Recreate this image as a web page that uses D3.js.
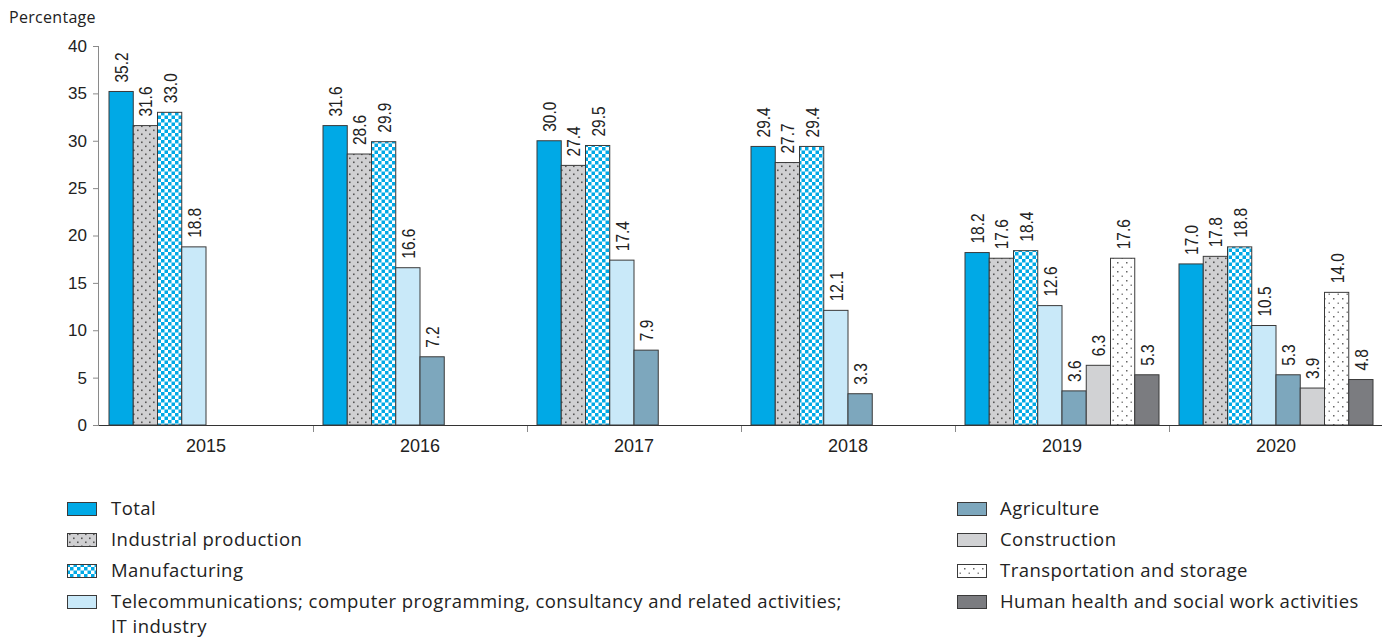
<!DOCTYPE html>
<html>
<head>
<meta charset="utf-8">
<script src="https://cdn.jsdelivr.net/npm/d3@7"></script>
<style>
  html, body { margin: 0; padding: 0; background: #fff; }
  svg { display: block; }
  .narrow { font-family: "Liberation Sans", Arial, sans-serif; }
  .leg { font-family: "Open Sans", "Noto Sans", sans-serif; }
</style>
</head>
<body>
<svg id="chart" width="1382" height="638"></svg>
<script>
// ---------- data ----------
const years = ["2015", "2016", "2017", "2018", "2019", "2020"];
const seriesNames = [
  "Total",
  "Industrial production",
  "Manufacturing",
  "Telecommunications; computer programming, consultancy and related activities; IT industry",
  "Agriculture",
  "Construction",
  "Transportation and storage",
  "Human health and social work activities"
];
const total        = [35.2, 31.6, 30.0, 29.4, 18.2, 17.0];
const industrial   = [31.6, 28.6, 27.4, 27.7, 17.6, 17.8];
const manufacturing= [33.0, 29.9, 29.5, 29.4, 18.4, 18.8];
const telecom      = [18.8, 16.6, 17.4, 12.1, 12.6, 10.5];
const agriculture  = [null, 7.2, 7.9, 3.3, 3.6, 5.3];
const construction = [null, null, null, null, 6.3, 3.9];
const transport    = [null, null, null, null, 17.6, 14.0];
const health       = [null, null, null, null, 5.3, 4.8];
const yTicks = [0, 5, 10, 15, 20, 25, 30, 35, 40];

const seriesValues = [total, industrial, manufacturing, telecom, agriculture, construction, transport, health];
const fills = ["#00a9e6", "url(#pDots)", "url(#pCheck)", "#c9e9f9", "#7da7bd", "#d1d2d4", "url(#pSparse)", "#7b7c80"];

// ---------- layout ----------
const svg = d3.select("#chart");
const mLeft = 99, mRight = 1383, mTop = 46, mBottom = 425;

const x = d3.scaleBand().domain(years).range([mLeft, mRight]).padding(0);
const xi = d3.scaleBand().domain(d3.range(8)).range([10, x.bandwidth() - 10]).padding(0);
const y = d3.scaleLinear().domain([0, 40]).range([mBottom, mTop]);

// ---------- patterns ----------
const defs = svg.append("defs");
const p1 = defs.append("pattern").attr("id", "pDots").attr("patternUnits", "userSpaceOnUse")
  .attr("width", 8).attr("height", 8);
p1.append("rect").attr("width", 8).attr("height", 8).attr("fill", "#d0d0d2");
p1.append("rect").attr("x", 1).attr("y", 1.5).attr("width", 1.6).attr("height", 1.6).attr("fill", "#555");
p1.append("rect").attr("x", 5).attr("y", 5.5).attr("width", 1.6).attr("height", 1.6).attr("fill", "#555");
const cs = 3.5;
const p2 = defs.append("pattern").attr("id", "pCheck").attr("patternUnits", "userSpaceOnUse")
  .attr("width", cs * 2).attr("height", cs * 2);
p2.append("rect").attr("width", cs * 2).attr("height", cs * 2).attr("fill", "#ffffff");
p2.append("rect").attr("x", 0).attr("y", 0).attr("width", cs).attr("height", cs).attr("fill", "#00a9e6");
p2.append("rect").attr("x", cs).attr("y", cs).attr("width", cs).attr("height", cs).attr("fill", "#00a9e6");
const p3 = defs.append("pattern").attr("id", "pSparse").attr("patternUnits", "userSpaceOnUse")
  .attr("width", 9).attr("height", 9);
p3.append("rect").attr("width", 9).attr("height", 9).attr("fill", "#ffffff");
p3.append("rect").attr("x", 1).attr("y", 1).attr("width", 1.5).attr("height", 1.5).attr("fill", "#666");
p3.append("rect").attr("x", 5.5).attr("y", 5.5).attr("width", 1.5).attr("height", 1.5).attr("fill", "#888");

// ---------- axes ----------
const yAxis = d3.axisLeft(y).tickValues(yTicks).tickSize(6).tickPadding(6);
const gy = svg.append("g").attr("transform", `translate(${mLeft},0)`).call(yAxis);
gy.select(".domain").attr("stroke", "#8a8a8a").attr("d", `M-0.5,${mTop}V${mBottom}`);
gy.selectAll(".tick line").attr("stroke", "#8a8a8a");
gy.selectAll(".tick text").attr("class", "narrow").attr("font-size", 17).attr("fill", "#222");

svg.append("text").attr("class", "leg").attr("x", 9).attr("y", 23)
  .attr("font-size", 16).attr("letter-spacing", 0.3).attr("fill", "#222").text("Percentage");

const xAxis = d3.axisBottom(x).tickSize(0).tickPadding(14);
const gx = svg.append("g").attr("transform", `translate(0,${mBottom})`).call(xAxis);
gx.select(".domain").attr("stroke", "#333").attr("d", `M${mLeft},0.5H${mRight}`);
gx.selectAll(".tick text").attr("font-family", "Liberation Sans, Arial, sans-serif")
  .attr("font-size", 18).attr("fill", "#222");
svg.append("g").selectAll("line").data(years.slice(1)).join("line")
  .attr("x1", d => Math.round(x(d)) + 0.5).attr("x2", d => Math.round(x(d)) + 0.5)
  .attr("y1", mBottom + 1).attr("y2", mBottom + 7).attr("stroke", "#8a8a8a");

// ---------- bars ----------
const flat = [];
years.forEach((yr, i) => {
  seriesValues.forEach((arr, s) => {
    if (arr[i] != null) flat.push({ yr, s, v: arr[i] });
  });
});

const gBars = svg.append("g");
gBars.selectAll("rect").data(flat).join("rect")
  .attr("x", d => x(d.yr) + xi(d.s))
  .attr("y", d => y(d.v))
  .attr("width", xi.bandwidth())
  .attr("height", d => y(0) - y(d.v))
  .attr("fill", d => fills[d.s])
  .attr("stroke", "#3a3a3a")
  .attr("stroke-width", 1);

gBars.selectAll("text").data(flat).join("text")
  .attr("class", "narrow")
  .attr("transform", d => `translate(${x(d.yr) + xi(d.s) + xi.bandwidth() / 2 + 7},${y(d.v) - 9}) rotate(-90) scale(0.86,1)`)
  .attr("font-size", 18).attr("fill", "#222")
  .text(d => d.v.toFixed(1));

// ---------- legend ----------
const legLeft = [
  { s: 0, lines: ["Total"] },
  { s: 1, lines: ["Industrial production"] },
  { s: 2, lines: ["Manufacturing"] },
  { s: 3, lines: ["Telecommunications; computer programming, consultancy and related activities;", "IT industry"] }
];
const legRight = [4, 5, 6, 7].map(s => ({ s, lines: [seriesNames[s]] }));

function drawLegend(items, sx, tx) {
  const g = svg.append("g");
  items.forEach((it, i) => {
    const cy = 509 + i * 31;
    g.append("rect").attr("x", sx + 0.5).attr("y", cy - 6.5).attr("width", 29).attr("height", 13)
      .attr("fill", fills[it.s]).attr("stroke", "#3a3a3a").attr("stroke-width", 1);
    it.lines.forEach((ln, j) => {
      g.append("text").attr("class", "leg").attr("x", tx).attr("y", cy + 6 + j * 25)
        .attr("font-size", 18.5).attr("letter-spacing", 0.45).attr("fill", "#222").text(ln);
    });
  });
}
drawLegend(legLeft, 67, 111);
drawLegend(legRight, 957, 1000);
</script>
</body>
</html>
